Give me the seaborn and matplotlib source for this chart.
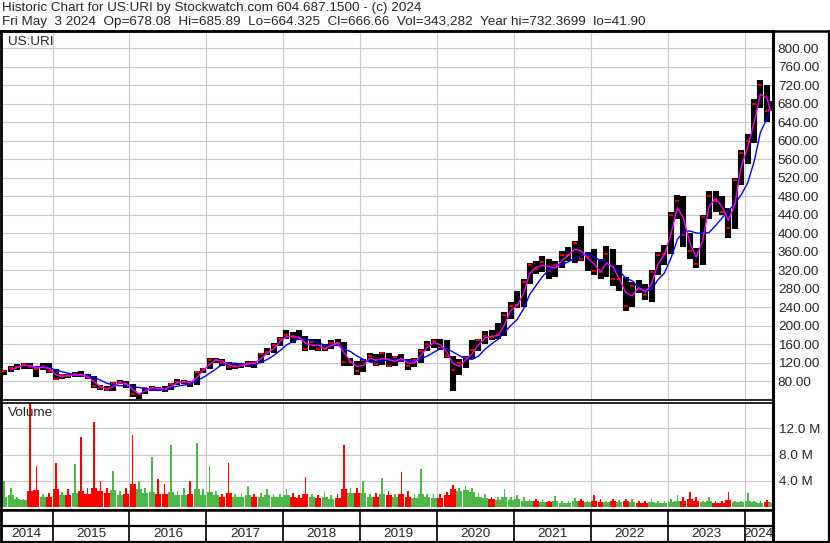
import numpy as np
import pandas as pd
import matplotlib
matplotlib.use("Agg")
import matplotlib.pyplot as plt
from matplotlib.lines import Line2D
import seaborn as sns

# --- data: one bar per month, May 2014 .. May 2024 ---
month_start = "2014-05-01"
n_months = 121

price_low = [
    93, 100, 104, 106, 107, 88, 104, 98,                          # 2014
    83, 85, 87, 88, 88, 84, 66, 60, 59, 59, 73, 66,               # 2015
    45, 42, 51, 58, 58, 56, 60, 72, 73, 68, 72, 97,               # 2016
    105, 118, 112, 104, 106, 108, 110, 108, 118, 136, 140, 156,   # 2017
    170, 162, 168, 146, 148, 146, 145, 150, 155, 113, 112, 94,    # 2018
    100, 122, 112, 114, 110, 112, 122, 104, 110, 118, 144, 152,   # 2019
    148, 130, 58, 92, 108, 128, 145, 160, 168, 170, 178, 215,     # 2020
    238, 240, 290, 312, 316, 300, 305, 325, 340, 335, 340, 318,   # 2021
    310, 300, 305, 285, 275, 232, 240, 270, 255, 250, 310, 330,   # 2022
    355, 430, 370, 345, 325, 330, 430, 445, 440, 390, 408, 505,   # 2023
    550, 595, 670, 640, 664,                                      # 2024
]
price_high = [
    104, 112, 116, 119, 120, 112, 120, 119,
    106, 96, 96, 100, 102, 96, 90, 72, 70, 78, 82, 80,
    73, 54, 66, 70, 68, 70, 76, 84, 82, 80, 102, 108,
    130, 130, 128, 122, 118, 120, 124, 124, 140, 152, 162, 176,
    190, 186, 190, 178, 170, 170, 160, 168, 172, 165, 130, 124,
    128, 140, 138, 142, 140, 134, 138, 128, 130, 150, 166, 170,
    170, 168, 135, 128, 135, 168, 172, 188, 190, 205, 230, 250,
    275, 300, 335, 340, 350, 345, 340, 362, 370, 382, 415, 360,
    365, 345, 372, 365, 330, 305, 295, 298, 290, 320, 360, 375,
    445, 482, 480, 400, 368, 440, 490, 490, 480, 455, 520, 580,
    615, 690, 732, 720, 686,
]
price_close = [
    101, 108, 110, 117, 111, 106, 113, 102,
    85, 94, 91, 95, 92, 88, 70, 66, 60, 75, 78, 72,
    52, 53, 64, 66, 63, 62, 74, 79, 79, 74, 100, 106,
    126, 126, 120, 110, 112, 114, 120, 118, 138, 142, 158, 172,
    180, 175, 174, 150, 165, 150, 150, 163, 162, 122, 122, 102,
    126, 134, 116, 140, 113, 132, 126, 113, 125, 146, 160, 166,
    152, 134, 103, 120, 130, 148, 168, 178, 176, 180, 222, 243,
    245, 295, 330, 322, 338, 318, 330, 352, 352, 378, 345, 348,
    318, 315, 355, 300, 300, 243, 285, 280, 265, 315, 352, 355,
    440, 470, 396, 362, 333, 435, 480, 470, 445, 410, 515, 573,
    600, 680, 720, 665, 667,
]
# typical weekly volume in the month and the biggest spike (millions)
vol_typical = [
    1.6, 1.8, 1.2, 1.1, 2.5, 2.6, 1.5, 1.6,
    2.8, 1.8, 1.8, 2.2, 2.5, 2.0, 3.0, 2.5, 2.2, 2.6, 1.8, 2.0,
    3.5, 2.8, 2.2, 2.4, 2.0, 2.0, 2.4, 1.8, 1.8, 2.0, 2.8, 1.8,
    2.4, 1.8, 1.6, 2.2, 1.6, 1.5, 1.8, 1.5, 1.6, 1.8, 1.6, 1.5,
    1.8, 1.6, 1.4, 2.0, 1.5, 1.4, 1.6, 1.3, 1.4, 2.8, 2.2, 2.2,
    2.2, 1.5, 1.5, 2.0, 1.8, 1.5, 2.0, 1.6, 1.4, 2.0, 1.5, 1.4,
    1.4, 1.8, 2.8, 2.5, 2.6, 2.4, 1.6, 1.4, 1.2, 1.1, 1.6, 1.1,
    1.2, 1.0, 0.9, 0.9, 0.8, 0.8, 0.9, 0.7, 0.7, 0.9, 0.9, 0.8,
    1.0, 0.8, 0.8, 0.9, 0.8, 0.9, 0.8, 0.7, 0.7, 0.8, 0.7, 0.7,
    0.8, 1.0, 1.0, 1.2, 1.0, 0.8, 0.9, 0.7, 0.7, 1.1, 0.8, 0.8,
    0.9, 0.8, 0.7, 0.8, 0.6,
]
vol_peak = [
    4.0, 3.0, 1.5, 1.3, 16.5, 6.3, 2.0, 2.2,
    6.7, 2.4, 2.8, 6.5, 10.7, 3.0, 13.0, 4.0, 3.0, 5.5, 2.5, 3.0,
    10.9, 4.0, 3.0, 7.6, 4.3, 3.5, 9.4, 2.5, 3.0, 4.0, 9.7, 2.8,
    6.3, 2.5, 2.0, 6.8, 2.0, 2.2, 3.2, 2.0, 2.2, 2.8, 2.0, 2.0,
    2.8, 2.2, 1.8, 4.6, 2.0, 1.8, 2.3, 1.8, 2.0, 9.4, 3.0, 3.0,
    4.0, 2.0, 2.2, 4.5, 2.5, 2.0, 5.3, 2.5, 2.0, 5.8, 2.0, 2.0,
    2.0, 2.3, 3.4, 3.0, 3.2, 3.0, 2.2, 2.0, 1.6, 1.5, 2.8, 1.5,
    1.8, 1.5, 1.2, 1.3, 1.2, 1.0, 1.7, 1.0, 0.9, 1.4, 1.3, 1.0,
    1.8, 1.2, 1.0, 1.2, 1.1, 1.3, 1.2, 0.9, 1.0, 1.2, 0.9, 0.9,
    1.3, 1.8, 1.5, 2.3, 1.6, 1.0, 1.5, 0.9, 1.0, 2.4, 1.0, 1.0,
    2.2, 1.0, 0.9, 1.1, 0.8,
]
price_ticks = list(range(80, 801, 40))
vol_ticks = [4, 8, 12]
years = list(range(2014, 2025))

header1 = "Historic Chart for US:URI by Stockwatch.com 604.687.1500 - (c) 2024"
header2 = ("Fri May  3 2024  Op=678.08  Hi=685.89  Lo=664.325  Cl=666.66  "
           "Vol=343,282  Year hi=732.3699  lo=41.90")

df = pd.DataFrame({
    "date": pd.date_range(month_start, periods=n_months, freq="MS") + pd.Timedelta(days=15),
    "low": price_low, "high": price_high, "close": price_close,
    "vol": vol_typical, "peak": vol_peak,
})
df.loc[df.index[-1], "date"] = pd.Timestamp("2024-05-02")
df["ma_fast"] = df["close"].rolling(2).mean()
df["ma_slow"] = df["close"].rolling(5).mean()
df["up"] = df["close"].diff().fillna(1) >= 0

# --- figure ---
sns.set_style("white")
plt.rcParams["font.family"] = ["Liberation Sans", "DejaVu Sans"]
W, H = 830, 543
fig = plt.figure(figsize=(W / 100, H / 100), dpi=100)


def px(l, t, r, b):
    return [l / W, 1 - b / H, (r - l) / W, (b - t) / H]


ax_p = fig.add_axes(px(1, 31, 773, 400))
ax_v = fig.add_axes(px(1, 402.5, 773, 510), sharex=ax_p)
ax_y = fig.add_axes(px(1, 510, 773, 542), sharex=ax_p)

x0, x1 = pd.Timestamp("2014-05-01"), pd.Timestamp("2024-05-15")
year_lines = [pd.Timestamp(f"{y}-01-01") for y in years[1:]]
grid_c = "#c8c8c8"
fs = 9.7

# price panel
for yv in price_ticks:
    ax_p.axhline(yv, color=grid_c, lw=0.8, zorder=0)
for d in year_lines:
    ax_p.axvline(d, color=grid_c, lw=0.8, zorder=0)
ax_p.vlines(df["date"], df["low"], df["high"], color="black", lw=4.4, zorder=2)
ax_p.plot(df["date"], df["close"], ls="none", marker="_", ms=2.5, mew=1.3,
          color="red", zorder=3)
sns.lineplot(data=df, x="date", y="ma_slow", ax=ax_p, color="#0000ff", lw=1, zorder=4)
sns.lineplot(data=df, x="date", y="ma_fast", ax=ax_p, color="#ff00ff", lw=1, zorder=5)
ax_p.set_ylim(39, 837)
ax_p.set_yticks(price_ticks)
ax_p.set_yticklabels([f"{v:.2f}" for v in price_ticks])
ax_p.yaxis.tick_right()
ax_p.tick_params(axis="y", length=0, pad=3.5, labelsize=fs)
ax_p.tick_params(axis="x", bottom=False, labelbottom=False)
ax_p.set_xlabel("")
ax_p.set_ylabel("")
ax_p.text(0.009, 0.969, "US:URI", transform=ax_p.transAxes, fontsize=fs,
          va="center", ha="left")

# volume panel
for yv in vol_ticks:
    ax_v.axhline(yv, color=grid_c, lw=0.8, zorder=0)
for d in year_lines:
    ax_v.axvline(d, color=grid_c, lw=0.8, zorder=0)
colors = np.where(df["up"], "#4cb848", "#ff0000")
ax_v.bar(df["date"], df["vol"], width=29, color=colors, linewidth=0, zorder=2)
ax_v.bar(df["date"], df["peak"], width=8, color=colors, linewidth=0, zorder=2)
ax_v.set_ylim(-0.4, 15.9)
ax_v.set_yticks(vol_ticks)
ax_v.set_yticklabels([f"{v:.1f} M" for v in vol_ticks])
ax_v.yaxis.tick_right()
ax_v.tick_params(axis="y", length=0, pad=4.5, labelsize=fs)
ax_v.tick_params(axis="x", bottom=False, labelbottom=False)
ax_v.text(0.009, 0.9, "Volume", transform=ax_v.transAxes, fontsize=fs,
          va="center", ha="left")

# year strip
for d in year_lines:
    ax_y.axvline(d, color="black", lw=1.2)
ax_y.axhline(0.5, color="black", lw=1.6)
ax_y.set_ylim(0, 1)
bounds = [x0] + year_lines + [x1]
for y, a, b in zip(years, bounds[:-1], bounds[1:]):
    ax_y.text(a + (b - a) / 2, 0.25, str(y), ha="center", va="center", fontsize=fs)
ax_y.set_yticks([])
ax_y.tick_params(axis="x", bottom=False, labelbottom=False)
ax_p.set_xlim(x0, x1)

for ax in (ax_p, ax_v, ax_y):
    for s in ax.spines.values():
        s.set_color("black")
        s.set_linewidth(1.2)
    ax.spines["left"].set_linewidth(2)
    ax.spines["right"].set_linewidth(2.2)
ax_p.spines["top"].set_linewidth(1.8)
ax_y.spines["top"].set_linewidth(1.8)
ax_y.spines["bottom"].set_linewidth(1.8)

# outer frame and header
fig.add_artist(Line2D([0, 1], [1 - 31 / H] * 2, color="black", lw=1.8))
fig.add_artist(Line2D([828.5 / W] * 2, [1 - 31 / H, 1 - 542 / H], color="black", lw=1.6))
fig.add_artist(Line2D([0, 1], [1 - 541.8 / H] * 2, color="black", lw=1.6))
fig.text(2 / W, 1 - 8.5 / H, header1, fontsize=fs, va="center", ha="left")
fig.text(2 / W, 1 - 21.5 / H, header2, fontsize=fs, va="center", ha="left")

fig.savefig("out.png", dpi=100)
